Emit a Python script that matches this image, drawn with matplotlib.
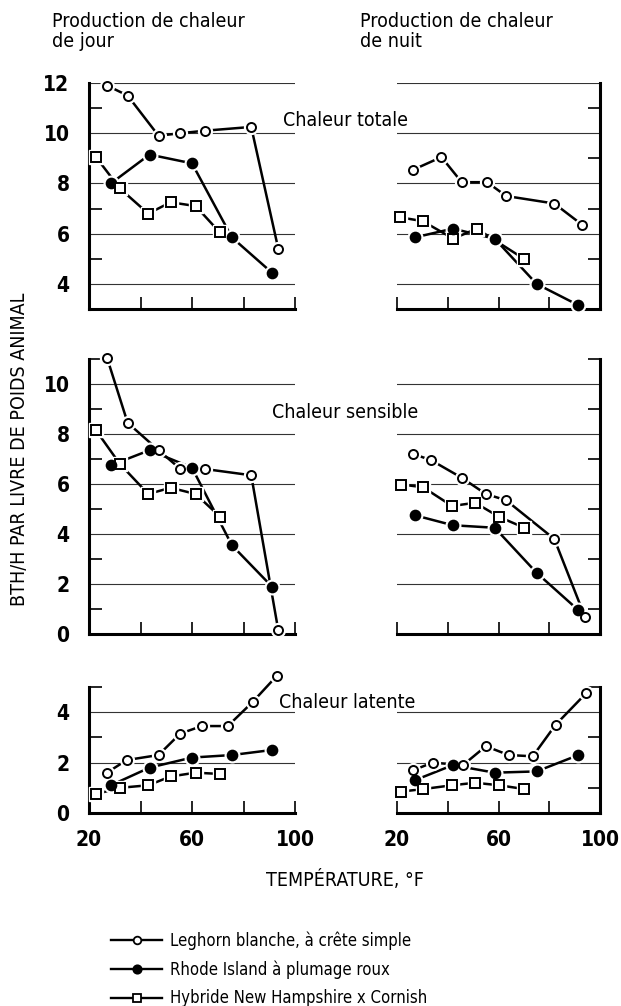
"""
Production de chaleur de jour / de nuit pour trois races de poulets
"""

import matplotlib.pyplot as plt
from matplotlib.lines import Line2D

plt.rcParams['font.family'] = ['DejaVu Sans']
plt.rcParams['font.stretch'] = 'condensed'

# ------------------------
# Températures (°F)
# ------------------------
jour_leghorn_temp = [27, 35, 47, 55.5, 65, 83, 93.5]
jour_leghorn_temp_lat = [27, 34.6, 47, 55.4, 63.8, 73.9, 83.5, 93]
jour_rhode_temp = [28.5, 43.5, 60, 75.5, 91]
jour_hybride_temp = [22.7, 32, 43, 51.7, 61.4, 70.8]

nuit_leghorn_temp = [26.5, 33.5, 45.5, 55, 63, 82, 94]
nuit_leghorn_temp_tot = [26.5, 37.5, 45.5, 55.5, 63, 82, 93]
nuit_leghorn_temp_lat = [26.5, 34, 46, 55, 64, 73.5, 82.5, 94.5]
nuit_rhode_temp = [27, 42, 58.5, 75, 91.5]
nuit_hybride_temp = [21.7, 30.3, 41.7, 50.8, 60.3, 70.2]
nuit_hybride_temp_tot = [21.2, 30.1, 42.2, 51.4, 70]

# ------------------------
# Chaleur totale (BTH/h par livre)
# ------------------------
tot_jour_leghorn = [11.9, 11.5, 9.9, 10.0, 10.1, 10.25, 5.4]
tot_jour_rhode = [8.0, 9.15, 8.8, 5.85, 4.45]
tot_jour_hybride = [9.05, 7.8, 6.8, 7.25, 7.1, 6.05]
tot_nuit_leghorn = [8.55, 9.05, 8.05, 8.05, 7.5, 7.2, 6.35]
tot_nuit_rhode = [5.85, 6.2, 5.8, 4.0, 3.15]
tot_nuit_hybride = [6.65, 6.5, 5.8, 6.2, 5.0]

# ------------------------
# Chaleur sensible
# ------------------------
sens_jour_leghorn = [11.05, 8.45, 7.35, 6.6, 6.6, 6.35, 0.15]
sens_jour_rhode = [6.75, 7.35, 6.65, 3.55, 1.9]
sens_jour_hybride = [8.15, 6.8, 5.6, 5.85, 5.6, 4.7]
sens_nuit_leghorn = [7.2, 6.95, 6.25, 5.6, 5.35, 3.8, 0.7]
sens_nuit_rhode = [4.75, 4.35, 4.25, 2.45, 0.95]
sens_nuit_hybride = [5.98, 5.87, 5.12, 5.25, 4.68, 4.25]

# ------------------------
# Chaleur latente
# ------------------------
lat_jour_leghorn = [1.6, 2.1, 2.3, 3.15, 3.45, 3.45, 4.4, 5.45]
lat_jour_rhode = [1.1, 1.8, 2.2, 2.3, 2.5]
lat_jour_hybride = [0.75, 1.0, 1.1, 1.45, 1.6, 1.55]
lat_nuit_leghorn = [1.7, 2.0, 1.9, 2.65, 2.3, 2.25, 3.5, 4.75]
lat_nuit_rhode = [1.3, 1.9, 1.6, 1.65, 2.3]
lat_nuit_hybride = [0.85, 0.95, 1.1, 1.2, 1.1, 0.95]

legend_labels = ["Leghorn blanche, à crête simple",
                 "Rhode Island à plumage roux",
                 "Hybride New Hampshire x Cornish"]

STYLES = {
    'leghorn': dict(marker='o', mfc='white', ms=6.5),
    'rhode': dict(marker='o', mfc='black', ms=7),
    'hybride': dict(marker='s', mfc='white', ms=6.5),
}

W, H = 621, 1006


def frac_box(x0, x1, y0, y1):
    """pixel box -> figure fraction [left, bottom, width, height]"""
    return [x0 / W, 1 - y1 / H, (x1 - x0) / W, (y1 - y0) / H]


def draw_series(ax, x, y, kind):
    st = STYLES[kind]
    ax.plot(x, y, '-', color='black', lw=1.8, clip_on=False, zorder=2)
    # halo blanc pour laisser un petit vide entre trait et marqueur
    ax.plot(x, y, ls='none', marker=st['marker'], ms=st['ms'] + 3.5,
            mfc='white', mec='white', clip_on=False, zorder=3)
    ax.plot(x, y, ls='none', marker=st['marker'], ms=st['ms'],
            mfc=st['mfc'], mec='black', mew=1.4, clip_on=False, zorder=4)


def style_axes(ax, side, ylim, major, minor, show_x):
    ax.set_xlim(20, 100)
    ax.set_ylim(*ylim)
    ax.spines['top'].set_visible(False)
    if side == 'left':
        ax.spines['right'].set_visible(False)
        ax.spines['left'].set_linewidth(2.2)
        ax.yaxis.tick_left()
        xt = [40, 60, 80, 100]
    else:
        ax.spines['left'].set_visible(False)
        ax.spines['right'].set_linewidth(2.2)
        ax.yaxis.tick_right()
        xt = [20, 40, 60, 80]
    ax.spines['bottom'].set_linewidth(2.2)

    ax.set_yticks(major)
    ax.set_yticks(minor, minor=True)
    ax.grid(axis='y', which='major', color='#333333', lw=0.8)
    ax.set_axisbelow(True)
    ax.tick_params(axis='y', which='major', length=0, pad=14,
                   labelsize=15, labelleft=(side == 'left'),
                   labelright=False)
    ax.tick_params(axis='y', which='minor', direction='in', length=9,
                   width=1.2)
    for lab in ax.get_yticklabels():
        lab.set_fontweight('bold')

    if show_x:
        ax.set_xticks([20, 40, 60, 80, 100])
        ax.set_xticklabels(['20', '', '60', '', '100'], fontsize=15,
                           fontweight='bold')
    else:
        ax.set_xticks(xt)
        ax.set_xticklabels([])
    ax.tick_params(axis='x', direction='in', length=9, width=1.2, pad=12)


fig = plt.figure(figsize=(W / 100, H / 100), dpi=100)

left_x = (89, 295)
right_x = (397, 600)
rows = [(83, 309), (359, 634), (687, 813)]

panels = [
    # (rangée, côté, ylim, majeurs, mineurs, series)
    (0, 'left', (3, 12), [4, 6, 8, 10, 12], [5, 7, 9, 11],
     [(jour_leghorn_temp, tot_jour_leghorn, 'leghorn'),
      (jour_rhode_temp, tot_jour_rhode, 'rhode'),
      (jour_hybride_temp, tot_jour_hybride, 'hybride')]),
    (0, 'right', (3, 12), [4, 6, 8, 10, 12], [5, 7, 9, 11],
     [(nuit_leghorn_temp_tot, tot_nuit_leghorn, 'leghorn'),
      (nuit_hybride_temp_tot, tot_nuit_hybride, 'hybride'),
      (nuit_rhode_temp, tot_nuit_rhode, 'rhode')]),
    (1, 'left', (0, 11), [0, 2, 4, 6, 8, 10], [1, 3, 5, 7, 9, 11],
     [(jour_leghorn_temp, sens_jour_leghorn, 'leghorn'),
      (jour_hybride_temp, sens_jour_hybride, 'hybride'),
      (jour_rhode_temp, sens_jour_rhode, 'rhode')]),
    (1, 'right', (0, 11), [0, 2, 4, 6, 8, 10], [1, 3, 5, 7, 9, 11],
     [(nuit_leghorn_temp, sens_nuit_leghorn, 'leghorn'),
      (nuit_hybride_temp, sens_nuit_hybride, 'hybride'),
      (nuit_rhode_temp, sens_nuit_rhode, 'rhode')]),
    (2, 'left', (0, 5), [0, 2, 4], [1, 3, 5],
     [(jour_leghorn_temp_lat, lat_jour_leghorn, 'leghorn'),
      (jour_hybride_temp, lat_jour_hybride, 'hybride'),
      (jour_rhode_temp, lat_jour_rhode, 'rhode')]),
    (2, 'right', (0, 5), [0, 2, 4], [1, 3, 5],
     [(nuit_leghorn_temp_lat, lat_nuit_leghorn, 'leghorn'),
      (nuit_hybride_temp, lat_nuit_hybride, 'hybride'),
      (nuit_rhode_temp, lat_nuit_rhode, 'rhode')]),
]

for row, side, ylim, major, minor, series in panels:
    xs = left_x if side == 'left' else right_x
    ax = fig.add_axes(frac_box(xs[0], xs[1], *rows[row]))
    style_axes(ax, side, ylim, major, minor, show_x=(row == 2))
    for x, y, kind in series:
        draw_series(ax, x, y, kind)

# ------------------------
# Textes
# ------------------------
fig.text(52 / W, 1 - 12 / H, "Production de chaleur\nde jour", fontsize=14,
         va='top', ha='left', linespacing=1.05)
fig.text(360 / W, 1 - 12 / H, "Production de chaleur\nde nuit", fontsize=14,
         va='top', ha='left', linespacing=1.05)
fig.text(283 / W, 1 - 120 / H, "Chaleur totale", fontsize=14, va='center')
fig.text(272 / W, 1 - 412 / H, "Chaleur sensible", fontsize=14, va='center')
fig.text(279 / W, 1 - 702 / H, "Chaleur latente", fontsize=14, va='center')
fig.text(20 / W, 1 - 449 / H, "BTH/H PAR LIVRE DE POIDS ANIMAL", fontsize=14,
         rotation=90, ha='center', va='center')
fig.text(345 / W, 1 - 880 / H, "TEMPÉRATURE, °F", fontsize=14,
         ha='center', va='center')

# ------------------------
# Légende
# ------------------------
handles = []
for kind in ['leghorn', 'rhode', 'hybride']:
    st = STYLES[kind]
    handles.append(Line2D([], [], color='black', lw=1.7, marker=st['marker'],
                          ms=st['ms'] - 1, mfc=st['mfc'], mec='black',
                          mew=1.3))
fig.legend(handles, legend_labels, loc='upper left',
           bbox_to_anchor=(104 / W, 1 - 925 / H), frameon=False,
           fontsize=12, handlelength=3.1, handletextpad=0.45,
           labelspacing=0.62, borderaxespad=0)

fig.savefig("out.png", dpi=100)
